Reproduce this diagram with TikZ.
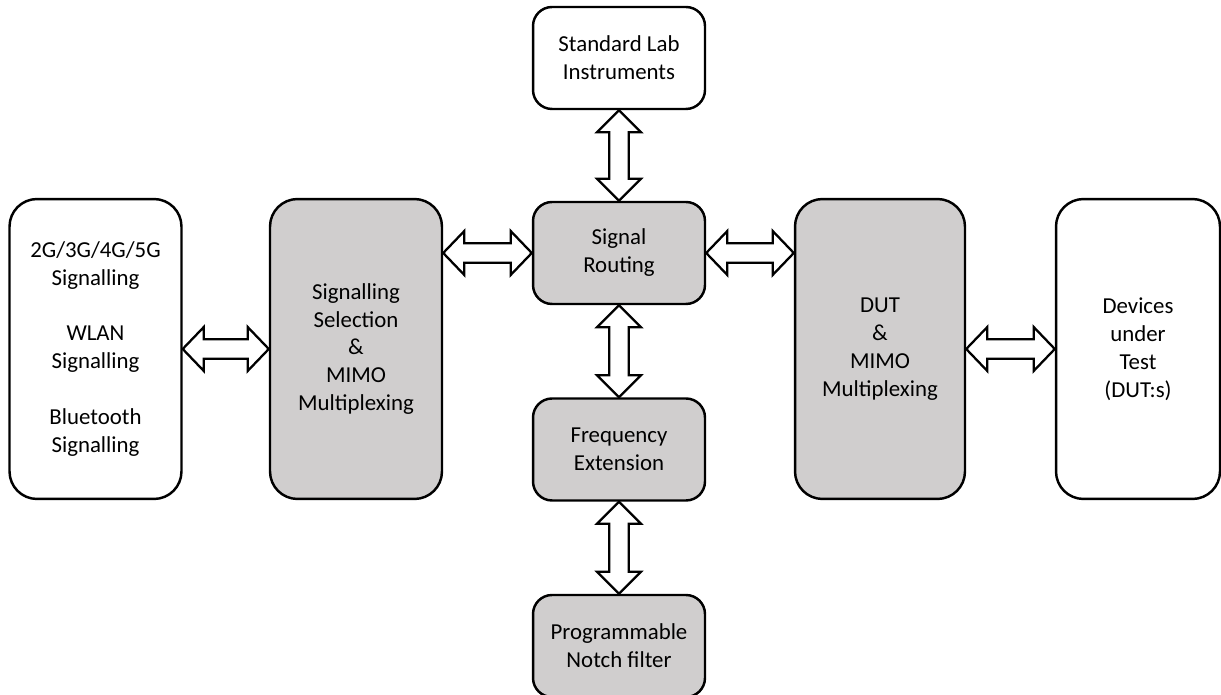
\documentclass[tikz,border=0pt]{standalone}
\usepackage{fontspec}
\setmainfont{Carlito}
\usetikzlibrary{calc}
\definecolor{boxgray}{RGB}{208,206,206}
\begin{document}
\begin{tikzpicture}[x=0.02cm,y=-0.02cm,
 white node/.style={draw,line width=1.4pt,fill=white,align=center,inner sep=0pt,font=\fontsize{13}{15.9}\selectfont},
 gray node/.style={white node,fill=boxgray},
 small box/.style={minimum width=3.44cm,minimum height=2.04cm,rounded corners=0.38cm},
 big box/.style={minimum width=3.44cm,minimum height=6cm,rounded corners=0.55cm},
 harrow/.style={draw,fill=white,line width=1.3pt,to path={let \p1=(\tikztostart), \p2=(\tikztotarget) in
   (\p1) -- ++(12pt,12.5pt) -- ++(0pt,-7pt) -- (\x2-12pt,\y1+5.5pt) -- ++(0pt,7pt) -- (\p2)
   -- ++(-12pt,-12.5pt) -- ++(0pt,7pt) -- (\x1+12pt,\y1-5.5pt) -- ++(0pt,-7pt) -- cycle}},
 varrow/.style={draw,fill=white,line width=1.3pt,to path={let \p1=(\tikztostart), \p2=(\tikztotarget) in
   (\p1) -- ++(12.5pt,-12.5pt) -- ++(-7pt,0pt) -- (\x1+5.5pt,\y2+12.5pt) -- ++(7pt,0pt) -- (\p2)
   -- ++(-12.5pt,12.5pt) -- ++(7pt,0pt) -- (\x1-5.5pt,\y1-12.5pt) -- ++(-7pt,0pt) -- cycle}}]
\useasboundingbox (0,0) rectangle (1221,695);
\begin{scope}
\clip (0,0) rectangle (1221,695);
\node[white node,big box] (sig) at (95.5,349) {2G/3G/4G/5G\\Signalling\\[15.9pt]WLAN\\Signalling\\[15.9pt]Bluetooth\\Signalling};
\node[gray node,big box] (sel) at (356,349) {Signalling\\Selection\\\&\\MIMO\\Multiplexing};
\node[white node,small box] (lab) at (619,58) {Standard Lab\\Instruments};
\node[gray node,small box] (rout) at (619,253) {Signal\\Routing};
\node[gray node,small box] (freq) at (619,449.5) {Frequency\\Extension};
\node[gray node,small box] (notch) at (619,646) {Programmable\\Notch filter};
\node[gray node,big box,minimum width=3.4cm] (dut) at (880,349) {DUT\\\&\\MIMO\\Multiplexing};
\node[white node,big box,minimum width=3.28cm] (devs) at (1138,349) {Devices\\under\\Test\\(DUT:s)};
\end{scope}

\path
(sig.east) edge[harrow] (sel.west)
(sel.east |- rout) edge[harrow] (rout.west)
(rout.east) edge[harrow] (dut.west |- rout)
(dut.east) edge[harrow] (devs.west)

(lab.south) edge[varrow] (rout.north)
(rout.south) edge[varrow] (freq.north)
(freq.south) edge[varrow] (notch.north);

\end{tikzpicture}
\end{document}
